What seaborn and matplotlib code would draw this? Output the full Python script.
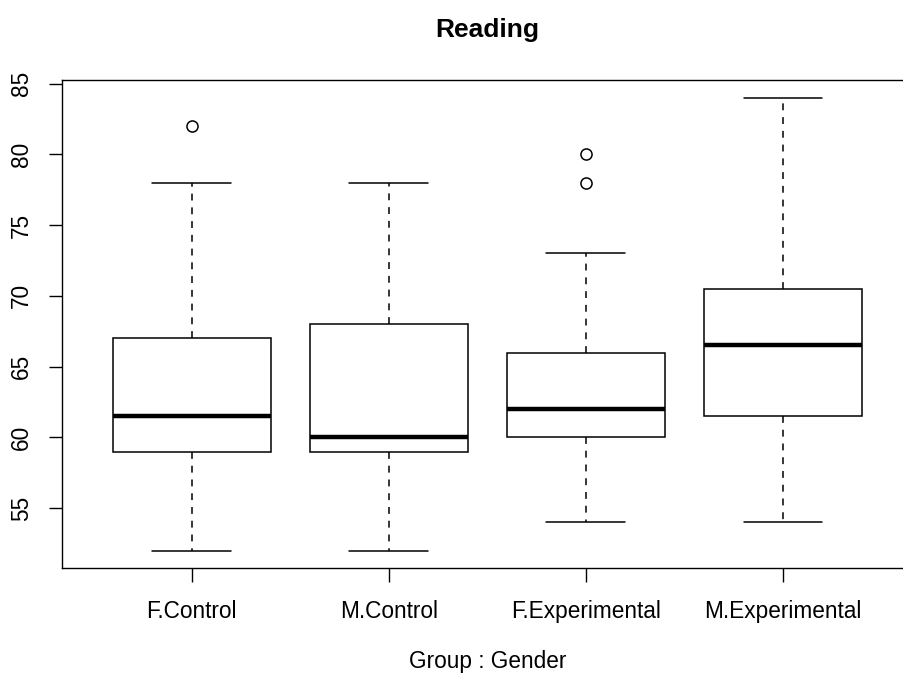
import matplotlib
matplotlib.use('Agg')
import matplotlib.pyplot as plt
import seaborn as sns
import pandas as pd

# ---- data ----
groups = ["F.Control", "M.Control", "F.Experimental", "M.Experimental"]
f_control = [52, 58, 59, 60, 61.5, 64, 67, 78, 82]
m_control = [52, 55, 59, 59.5, 60, 65, 68, 72, 78]
f_experimental = [54, 57, 59, 60, 61, 61.5, 62, 63, 65, 66, 73, 78, 80]
m_experimental = [54, 58, 61.5, 64, 66.5, 68, 70.5, 77, 84]
y_ticks = [55, 60, 65, 70, 75, 80, 85]
title = "Reading"
x_label = "Group : Gender"

series = [f_control, m_control, f_experimental, m_experimental]
rows = []
for g, vals in zip(groups, series):
    for v in vals:
        rows.append({"group": g, "score": v})
df = pd.DataFrame(rows)

sns.set_style("white")
plt.rcParams['font.family'] = ['Liberation Sans', 'DejaVu Sans']
plt.rcParams['text.color'] = 'black'
plt.rcParams['axes.labelcolor'] = 'black'
plt.rcParams['xtick.color'] = 'black'
plt.rcParams['ytick.color'] = 'black'

W, H = 904, 675
fig = plt.figure(figsize=(W / 100, H / 100), dpi=100)
left_px, right_px, top_px, bottom_px = 61.7, 913.0, 80.0, 567.7
ax = fig.add_axes([left_px / W, 1 - bottom_px / H,
                   (right_px - left_px) / W, (bottom_px - top_px) / H])

sns.boxplot(data=df, x="group", y="score", order=groups, ax=ax,
            width=0.8, color="white", linecolor="black", linewidth=1.1,
            saturation=1, whis=1.5,
            whiskerprops={"linestyle": (0, (4.5, 4.5))},
            medianprops={"linewidth": 3.2},
            flierprops={"marker": "o", "markersize": 8,
                        "markerfacecolor": "none",
                        "markeredgecolor": "black",
                        "markeredgewidth": 1.1})

ax.set_xlim(-0.66, 3.66)
ax.set_ylim(50.8, 85.25)
ax.set_yticks(y_ticks)
ax.set_yticklabels([str(t) for t in y_ticks])
ax.set_ylabel("")

for sp in ax.spines.values():
    sp.set_visible(True)
    sp.set_color("black")
    sp.set_linewidth(1.0)

ax.tick_params(axis="both", which="major", direction="out", color="black",
               labelcolor="black", width=1.0, labelsize=16.3,
               left=True, bottom=True)
ax.tick_params(axis="y", length=9.4, pad=11, labelrotation=90)
ax.tick_params(axis="x", length=10, pad=13.5)
for lab in ax.get_yticklabels():
    lab.set_verticalalignment("center")

ax.set_title(title, fontsize=19, fontweight="bold", pad=31, color="black")
ax.set_xlabel(x_label, fontsize=16.3, color="black")
ax.xaxis.set_label_coords(0.5, (bottom_px - 668.3) / (bottom_px - top_px))
ax.xaxis.label.set_verticalalignment("baseline")

fig.savefig("out.png", dpi=100)
